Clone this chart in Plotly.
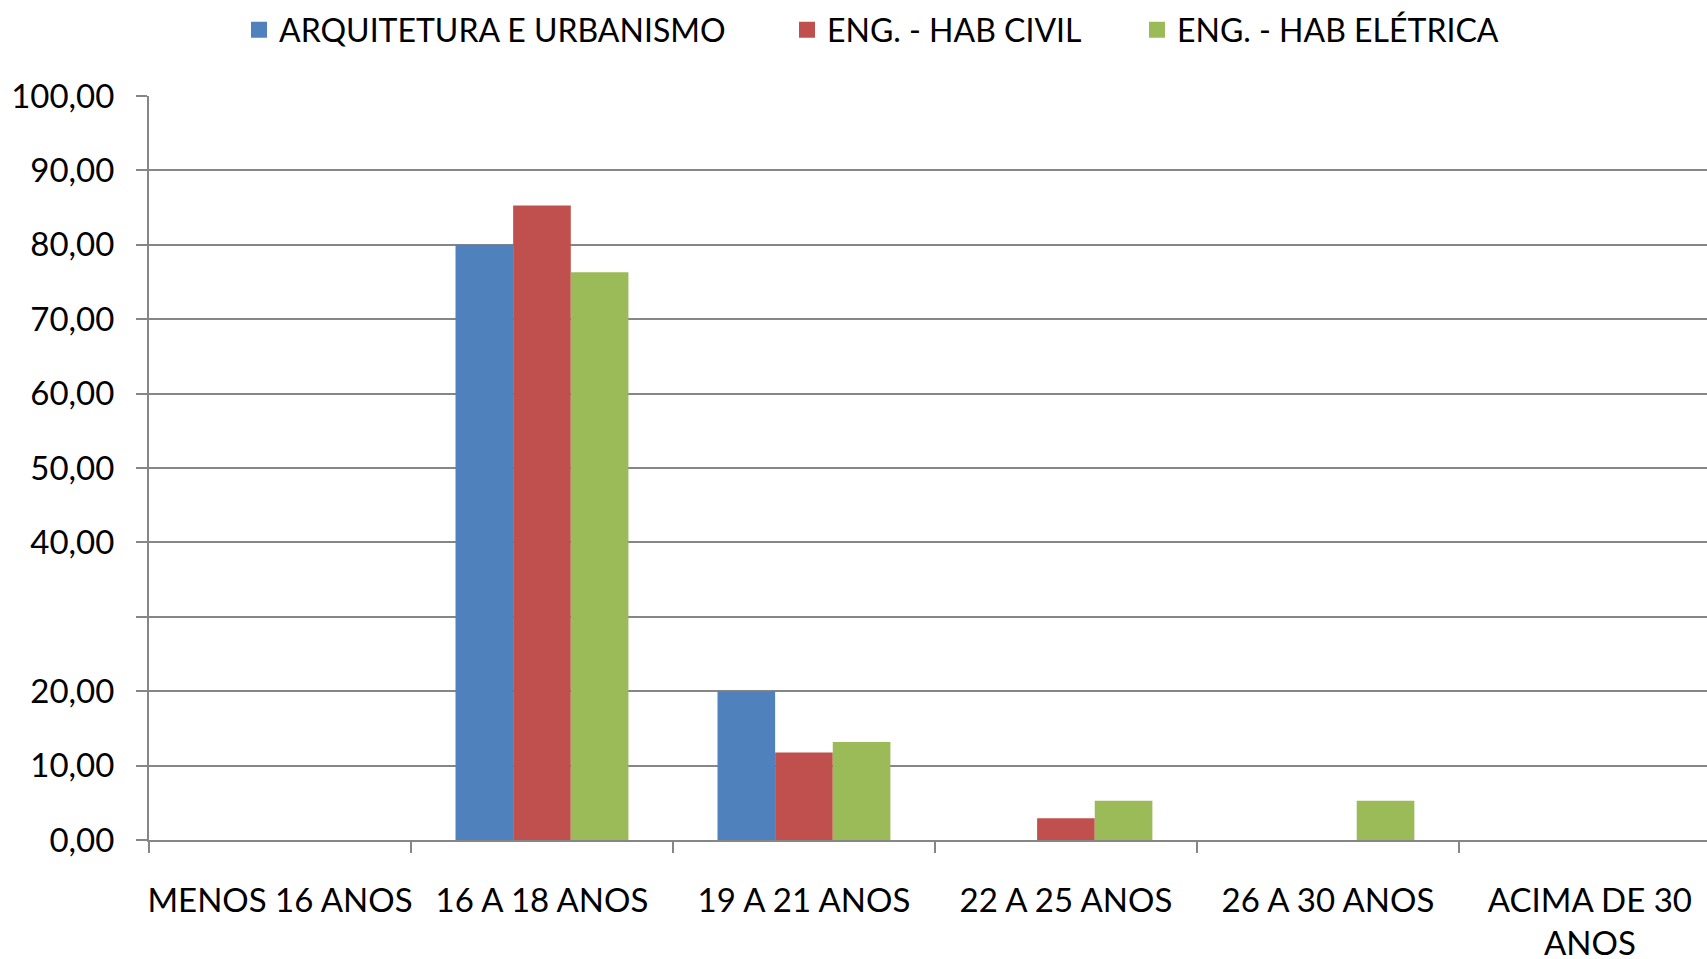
import plotly.graph_objects as go

categories = ["MENOS 16 ANOS", "16 A 18 ANOS", "19 A 21 ANOS", "22 A 25 ANOS",
              "26 A 30 ANOS", "ACIMA DE 30<br>ANOS"]
series_names = ["ARQUITETURA E URBANISMO", "ENG. - HAB CIVIL", "ENG. - HAB ELÉTRICA"]
arquitetura = [0, 80.00, 20.00, 0, 0, 0]
civil = [0, 85.29, 11.76, 2.94, 0, 0]
eletrica = [0, 76.32, 13.16, 5.26, 5.26, 0]
colors = ["#4F81BD", "#C0504D", "#9BBB59"]
y_tickvals = [0, 10, 20, 30, 40, 50, 60, 70, 80, 90, 100]
y_ticktext = ["0,00", "10,00", "20,00", "", "40,00", "50,00", "60,00",
              "70,00", "80,00", "90,00", "100,00"]

FONT = "Lato"
GRID = "#868686"

fig = go.Figure()
legend_keys = ["legend", "legend2", "legend3"]
for name, vals, col, lg in zip(series_names, [arquitetura, civil, eletrica], colors, legend_keys):
    fig.add_trace(go.Bar(x=categories, y=vals, name=name, marker=dict(color=col, line=dict(width=0)),
                         showlegend=False, legendgroup=name))
    fig.add_trace(go.Scatter(x=[None], y=[None], mode="markers", name=name, legendgroup=name,
                             marker=dict(symbol="square", size=16, color=col), legend=lg))

W, H = 1707, 959
legend_x_px = [239, 787, 1137]
common_legend = dict(orientation="h", xref="container", yref="container",
                     xanchor="left", yanchor="middle", y=1 - 30 / H,
                     font=dict(family=FONT, size=32, color="#000"),
                     bgcolor="rgba(0,0,0,0)", borderwidth=0, itemwidth=30)
layout_legends = {}
for lg, xp in zip(legend_keys, legend_x_px):
    layout_legends[lg] = dict(common_legend, x=xp / W)

fig.update_layout(
    width=W, height=H,
    margin=dict(l=149, r=0, t=96, b=119, pad=0, autoexpand=False),
    paper_bgcolor="white", plot_bgcolor="white",
    font=dict(family=FONT, size=33, color="#000"),
    barmode="group", bargap=0.34, bargroupgap=0,
    **layout_legends,
)
fig.update_xaxes(
    type="category", categoryorder="array", categoryarray=categories,
    range=[-0.5, 5.447], automargin=False, tickangle=0,
    showline=True, linecolor=GRID, linewidth=2,
    ticks="outside", tickson="boundaries", ticklen=11, tickcolor=GRID, tickwidth=2,
    showgrid=False, ticklabelstandoff=30,
    tickfont=dict(family=FONT, size=33, color="#000"),
)
fig.update_yaxes(
    range=[0, 100], tickmode="array", tickvals=y_tickvals, ticktext=y_ticktext,
    automargin=False,
    showline=True, linecolor=GRID, linewidth=2,
    ticks="outside", ticklen=11, tickcolor=GRID, tickwidth=2,
    showgrid=True, gridcolor=GRID, gridwidth=2, zeroline=False,
    ticklabelstandoff=15,
    tickfont=dict(family=FONT, size=33, color="#000"),
)

fig.write_html(
    "out.html",
    config={"displayModeBar": False},
    post_script="document.body.style.margin='0';document.body.style.overflow='hidden';",
)
